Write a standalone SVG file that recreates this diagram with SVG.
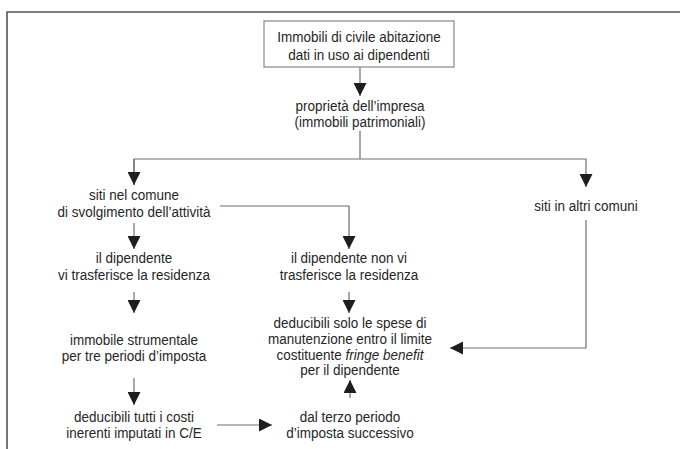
<svg xmlns="http://www.w3.org/2000/svg" width="680" height="449" viewBox="0 0 680 449">
<style>
text{font-family:"Liberation Sans",Arial,sans-serif;font-size:14.5px;fill:#262626;text-anchor:middle}
.ln{fill:none;stroke:#6f6f6f;stroke-width:1.2}
.frame{fill:none;stroke:#555;stroke-width:1.6}
.box{fill:#fff;stroke:#888;stroke-width:1.2}
</style>
<defs>
<marker id="ah" markerWidth="13" markerHeight="13" viewBox="0 0 13 13" refX="13" refY="6.5" orient="auto" markerUnits="userSpaceOnUse">
<path d="M0,0 L13,6.5 L0,13 Z" fill="#1e1e1e"/>
</marker>
</defs>
<rect x="0" y="0" width="680" height="449" fill="#fff"/>
<path class="frame" d="M7,449 V12 H680"/>
<g id="connectors">
<path class="ln" d="M360,67 V96" marker-end="url(#ah)"/>
<path class="ln" d="M360,131 V159"/>
<path class="ln" d="M134,185 V159 H586 V187" marker-end="url(#ah)"/>
<path class="ln" d="M134,159 V185" marker-end="url(#ah)"/>
<path class="ln" d="M220,206 H349 V249" marker-end="url(#ah)"/>
<path class="ln" d="M134,223 V249" marker-end="url(#ah)"/>
<path class="ln" d="M134,292 V313" marker-end="url(#ah)"/>
<path class="ln" d="M349,292 V313" marker-end="url(#ah)"/>
<path class="ln" d="M586,220 V348 H450" marker-end="url(#ah)"/>
<path class="ln" d="M134,378 V405" marker-end="url(#ah)"/>
<path class="ln" d="M217,425 H272" marker-end="url(#ah)"/>
<path class="ln" d="M350,398 V380" marker-end="url(#ah)"/>
</g>
<g id="n-root">
<rect class="box" x="264" y="21" width="190" height="46"/>
<g transform="scale(0.93,1)">
<text x="386.02" y="42">Immobili di civile abitazione</text>
<text x="386.02" y="60">dati in uso ai dipendenti</text>
</g>
</g>
<g id="n-proprieta" transform="scale(0.93,1)">
<text x="387.1" y="111">proprietà dell’impresa</text>
<text x="387.1" y="127">(immobili patrimoniali)</text>
</g>
<g id="n-siti-comune" transform="scale(0.93,1)">
<text x="144.09" y="200">siti nel comune</text>
<text x="144.09" y="217">di svolgimento dell’attività</text>
</g>
<g id="n-siti-altri" transform="scale(0.93,1)">
<text x="630.11" y="211">siti in altri comuni</text>
</g>
<g id="n-trasferisce" transform="scale(0.93,1)">
<text x="144.09" y="263">il dipendente</text>
<text x="144.09" y="280">vi trasferisce la residenza</text>
</g>
<g id="n-non-trasferisce" transform="scale(0.93,1)">
<text x="375.27" y="263">il dipendente non vi</text>
<text x="375.27" y="280">trasferisce la residenza</text>
</g>
<g id="n-strumentale" transform="scale(0.93,1)">
<text x="144.09" y="345">immobile strumentale</text>
<text x="144.09" y="361">per tre periodi d’imposta</text>
</g>
<g id="n-deducibili-solo" transform="scale(0.93,1)">
<text x="376.34" y="328">deducibili solo le spese di</text>
<text x="376.34" y="344">manutenzione entro il limite</text>
<text x="376.34" y="360">costituente <tspan font-style="italic">fringe benefit</tspan></text>
<text x="376.34" y="375">per il dipendente</text>
</g>
<g id="n-deducibili-tutti" transform="scale(0.93,1)">
<text x="144.09" y="422">deducibili tutti i costi</text>
<text x="144.09" y="438">inerenti imputati in C/E</text>
</g>
<g id="n-terzo" transform="scale(0.93,1)">
<text x="376.34" y="422">dal terzo periodo</text>
<text x="376.34" y="438">d’imposta successivo</text>
</g>
</svg>
